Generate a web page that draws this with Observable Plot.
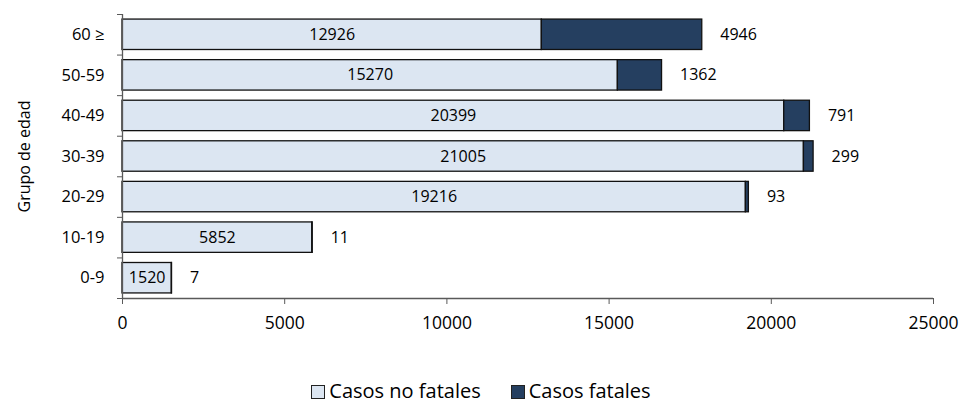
<!DOCTYPE html>
<html>
<head>
<meta charset="utf-8">
<script src="https://cdn.jsdelivr.net/npm/d3@7"></script>
<script src="https://cdn.jsdelivr.net/npm/@observablehq/plot@0.6"></script>
<style>
  html, body { margin: 0; padding: 0; background: #fff; }
  #wrap { position: relative; width: 962px; height: 406px; font-family: 'Open Sans', sans-serif; overflow: hidden; }
  #legend { position: absolute; top: 381px; left: 0; width: 962px; display: flex; justify-content: center; align-items: center; font-size: 20px; line-height: 20px; color: #000; }
  .sw { width: 14px; height: 14px; border: 1px solid #222; box-sizing: border-box; margin-right: 4px; margin-top: 2px; }
  .item { display: flex; align-items: center; }
  .item + .item { margin-left: 30px; }
</style>
</head>
<body>
<div id="wrap">
  <div id="chart"></div>
  <div id="legend"></div>
</div>
<script>
const categories = ["0-9", "10-19", "20-29", "30-39", "40-49", "50-59", "60 ≥"];
const nonFatal = [1520, 5852, 19216, 21005, 20399, 15270, 12926];
const fatal = [7, 11, 93, 299, 791, 1362, 4946];
const series = ["Casos no fatales", "Casos fatales"];
const colors = ["#dce6f2", "#253f60"];
const xTicks = [0, 5000, 10000, 15000, 20000, 25000];
const axisTitle = "Grupo de edad";

const rows = categories.flatMap((c, i) => [
  {cat: c, i, series: series[0], value: nonFatal[i]},
  {cat: c, i, series: series[1], value: fatal[i]}
]);

const axisColor = "#595959";

const chart = Plot.plot({
  width: 962,
  height: 345,
  marginTop: 14,
  marginBottom: 47,
  marginLeft: 122,
  marginRight: 29,
  style: {fontFamily: "'Open Sans', sans-serif", fontSize: "16px", color: "#000", background: "#fff"},
  x: {domain: [0, 25000]},
  y: {domain: [0, 7]},
  color: {domain: series, range: colors},
  marks: [
    Plot.rectX(rows, Plot.stackX({
      y1: d => d.i + 0.125,
      y2: d => d.i + 0.875,
      x: "value",
      fill: "series",
      stroke: "#111",
      strokeWidth: 1.3
    })),
    Plot.ruleX([0], {stroke: axisColor, strokeWidth: 1.3}),
    Plot.ruleY([0], {stroke: axisColor, strokeWidth: 1.3}),
    Plot.axisX({ticks: xTicks, tickFormat: d3.format("d"), tickSize: 6, tickPadding: 12, label: null, stroke: axisColor, fill: "#000", fontSize: 17.5}),
    Plot.axisY({ticks: d3.range(0, categories.length + 1), tickSize: 5, tickFormat: () => "", stroke: axisColor,
      label: axisTitle, labelAnchor: "center", labelArrow: false, labelOffset: 104, fill: "#000"}),
    Plot.axisY({ticks: categories.map((c, i) => i + 0.5), tickSize: 0, tickPadding: 18, tickFormat: v => categories[Math.floor(v)], label: null, fill: "#000", fontSize: 16.5}),
    Plot.text(nonFatal, {x: d => d / 2, y: (d, i) => i + 0.5, text: d => String(d), fill: "#000"}),
    Plot.text(fatal, {x: (d, i) => nonFatal[i] + d, y: (d, i) => i + 0.5, text: d => String(d), textAnchor: "start", dx: 18, fill: "#000"})
  ]
});
document.getElementById("chart").appendChild(chart);

const legend = document.getElementById("legend");
series.forEach((s, k) => {
  const item = document.createElement("div");
  item.className = "item";
  const sw = document.createElement("div");
  sw.className = "sw";
  sw.style.background = colors[k];
  const label = document.createElement("span");
  label.textContent = s;
  item.appendChild(sw);
  item.appendChild(label);
  legend.appendChild(item);
});
</script>
</body>
</html>
